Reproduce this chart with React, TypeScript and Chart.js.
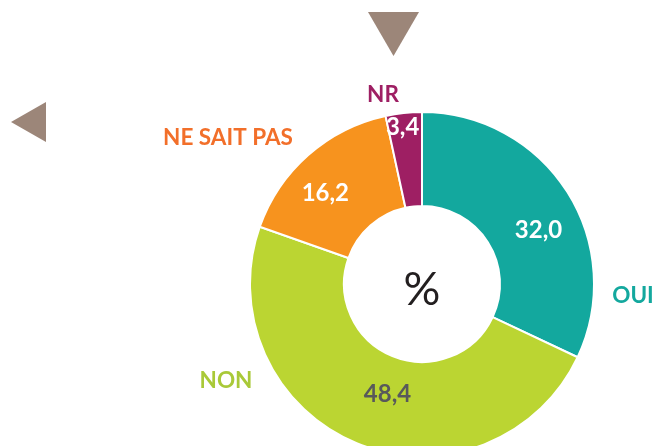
import React, { useEffect, useRef } from "react";
import { Chart, registerables } from "chart.js";

Chart.register(...registerables);

const categories = ["OUI", "NON", "NE SAIT PAS", "NR"];
const values = [32.0, 48.4, 16.2, 3.4];
const valueLabels = ["32,0", "48,4", "16,2", "3,4"];
const sliceColors = ["#13a89e", "#bbd532", "#f7931e", "#9e1f63"];
const categoryColors = ["#13a89e", "#a9c938", "#f26f2a", "#9e1f63"];
const valueColors = ["#ffffff", "#58595b", "#ffffff", "#ffffff"];

const FONT = "Lato, 'Open Sans', sans-serif";

// label placement relative to the chart centre / arc mid-point
const valueOffsets = [
  [11, 12],
  [13, -6],
  [-14, 2],
  [-6, -33],
];
const categoryOffsets = [
  [211, 11],
  [-196, 96],
  [-194, -147],
  [-39, -190],
];

const labelPlugin = {
  id: "donutLabels",
  afterDraw(chart: any) {
    const ctx = chart.ctx as CanvasRenderingContext2D;
    const meta = chart.getDatasetMeta(0);
    const arcs = meta.data;
    if (!arcs.length) return;
    const cx = arcs[0].x;
    const cy = arcs[0].y;
    ctx.save();
    ctx.textAlign = "center";
    ctx.textBaseline = "alphabetic";

    // value labels
    arcs.forEach((arc: any, i: number) => {
      const p = arc.getProps(["startAngle", "endAngle", "innerRadius", "outerRadius"], true);
      const mid = (p.startAngle + p.endAngle) / 2;
      const r = (p.innerRadius + p.outerRadius) / 2;
      const x = cx + Math.cos(mid) * r + valueOffsets[i][0];
      const y = cy + Math.sin(mid) * r + valueOffsets[i][1];
      const size = 24;
      ctx.font = `bold ${size}px ${FONT}`;
      ctx.fillStyle = valueColors[i];
      ctx.fillText(valueLabels[i], x, y + size * 0.36);
    });

    // category labels
    categories.forEach((c, i) => {
      const size = 22.5;
      ctx.font = `bold ${size}px ${FONT}`;
      ctx.fillStyle = categoryColors[i];
      ctx.fillText(c, cx + categoryOffsets[i][0], cy + categoryOffsets[i][1] + size * 0.36);
    });

    // centre symbol
    ctx.font = `400 46px ${FONT}`;
    ctx.fillStyle = "#231f20";
    ctx.fillText("%", cx, cy + 4 + 46 * 0.36);

    // decorative triangles
    ctx.fillStyle = "#9c8679";
    ctx.beginPath();
    ctx.moveTo(368, 12);
    ctx.lineTo(419, 12);
    ctx.lineTo(393.5, 56);
    ctx.closePath();
    ctx.fill();
    ctx.beginPath();
    ctx.moveTo(46, 102);
    ctx.lineTo(46, 142);
    ctx.lineTo(11, 122);
    ctx.closePath();
    ctx.fill();
    ctx.restore();
  },
};

export default function App() {
  const ref = useRef<HTMLCanvasElement>(null);
  useEffect(() => {
    document.body.style.margin = "0";
    document.body.style.overflow = "hidden";
    const chart = new Chart(ref.current!, {
      type: "doughnut",
      data: {
        labels: categories,
        datasets: [
          {
            data: values,
            backgroundColor: sliceColors,
            borderColor: "#ffffff",
            borderWidth: 2,
            clip: false,
          } as any,
        ],
      },
      options: {
        animation: false,
        responsive: false,
        radius: 172,
        cutout: 73,
        layout: { padding: { left: 250, right: 65, top: 122, bottom: 0 } },
        plugins: { legend: { display: false }, tooltip: { enabled: false } },
      } as any,
      plugins: [labelPlugin],
    });
    return () => chart.destroy();
  }, []);
  return (
    <div style={{ width: 659, height: 446, background: "#fff" }}>
      <canvas ref={ref} width={659} height={446} style={{ display: "block" }} />
    </div>
  );
}
